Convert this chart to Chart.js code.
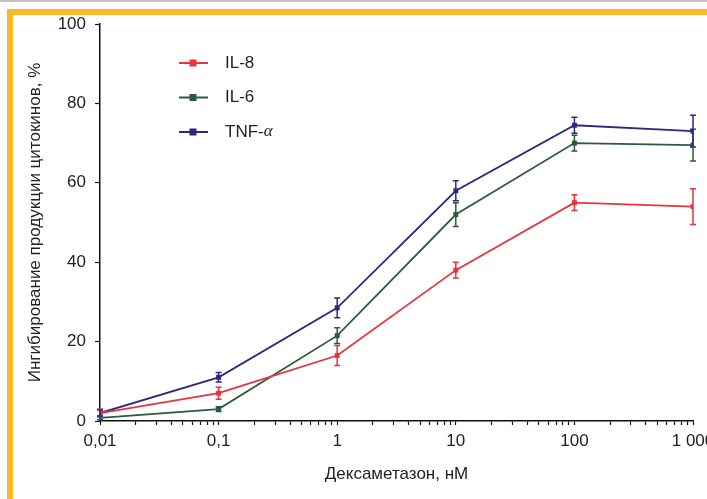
<!DOCTYPE html>
<html>
<head>
<meta charset="utf-8">
<script src="https://cdn.jsdelivr.net/npm/chart.js@4.4.1/dist/chart.umd.min.js"></script>
<style>
  html, body { margin:0; padding:0; background:#fff; overflow:hidden; }
  #wrap { position:relative; width:707px; height:499px; }
  #grayline { position:absolute; left:0; top:0; width:707px; height:2px; background:#c3c3c3; }
  #topbar { position:absolute; left:7px; top:9px; width:700px; height:6px; background:#fdb827; }
  #leftbar { position:absolute; left:7px; top:9px; width:6px; height:490px; background:#fdb827; }
  canvas { position:absolute; left:0; top:0; }
</style>
</head>
<body>
<div id="wrap">
  <div id="grayline"></div>
  <div id="topbar"></div>
  <div id="leftbar"></div>
  <canvas id="myChart" width="707" height="499"></canvas>
</div>
<script>
// данные
const doses = [0.01, 0.1, 1, 10, 100, 1000];
const doseLabels = {0.01:'0,01', 0.1:'0,1', 1:'1', 10:'10', 100:'100', 1000:'1 000'};

const il8 = [2, 7, 16.5, 38, 55, 54];
const il8Err = [1, 1.5, 2.5, 2, 2, 4.5];

const il6 = [0.8, 3, 21.5, 52, 70, 69.5];
const il6Err = [0.5, 0.6, 2, 3, 2, 4];

const tnf = [2, 11, 28.5, 58, 74.5, 73];
const tnfErr = [0.8, 1.2, 2.5, 2.5, 2, 4];

const names = ['IL-8', 'IL-6', 'TNF-α'];
const colors = ['#e8323c', '#2c5a3c', '#2a2a80'];

const FONT = '"Liberation Sans Narrow", "Liberation Sans", Arial, sans-serif';

function pts(vals, errs){
  return vals.map((v,i)=>({x: doses[i], y: v, err: errs[i]}));
}

// усы погрешностей
const errorBars = {
  id:'errorBars',
  afterDatasetsDraw(chart){
    const ctx = chart.ctx, xs = chart.scales.x, ys = chart.scales.y;
    chart.data.datasets.forEach((ds)=>{
      ctx.save();
      ctx.strokeStyle = ds.borderColor;
      ctx.lineWidth = 1.5;
      ds.data.forEach(p=>{
        const x = xs.getPixelForValue(p.x);
        const y1 = ys.getPixelForValue(p.y + p.err);
        const y2 = ys.getPixelForValue(Math.max(0, p.y - p.err));
        ctx.beginPath();
        ctx.moveTo(x, y1); ctx.lineTo(x, y2);
        ctx.moveTo(x-3, y1); ctx.lineTo(x+3, y1);
        ctx.moveTo(x-3, y2); ctx.lineTo(x+3, y2);
        ctx.stroke();
      });
      ctx.restore();
    });
  }
};

// легенда внутри графика
const innerLegend = {
  id:'innerLegend',
  afterDraw(chart){
    const ctx = chart.ctx;
    chart.data.datasets.forEach((ds,i)=>{
      const y = 63 + i*34.5;
      ctx.save();
      ctx.strokeStyle = ds.borderColor;
      ctx.fillStyle = ds.borderColor;
      ctx.lineWidth = 2;
      ctx.beginPath(); ctx.moveTo(179, y); ctx.lineTo(208, y); ctx.stroke();
      ctx.fillRect(189.5, y-3.5, 7, 7);
      ctx.fillStyle = '#222';
      ctx.font = '17px ' + FONT;
      ctx.textBaseline = 'middle';
      if (ds.label === 'TNF-α') {
        ctx.fillText('TNF-', 225, y);
        const w = ctx.measureText('TNF-').width;
        ctx.font = 'italic 17px "Liberation Serif", serif';
        ctx.fillText('α', 225 + w, y);
      } else {
        ctx.fillText(ds.label, 225, y);
      }
      ctx.restore();
    });
  }
};

const series = [[il8, il8Err], [il6, il6Err], [tnf, tnfErr]];

window.myChart = new Chart(document.getElementById('myChart'), {
  type: 'line',
  data: {
    datasets: series.map((s,i)=>({
      label: names[i],
      data: pts(s[0], s[1]),
      borderColor: colors[i],
      backgroundColor: colors[i],
      borderWidth: 1.8,
      pointStyle: 'rect',
      pointRadius: 3.5,
      pointBorderWidth: 0,
      tension: 0
    }))
  },
  options: {
    responsive: false,
    animation: false,
    layout: { padding: { left: 18, top: 24, right: 14, bottom: 0 } },
    plugins: { legend: { display:false }, tooltip: { enabled:false } },
    scales: {
      x: {
        type: 'logarithmic',
        min: 0.01, max: 1000,
        afterBuildTicks(scale){
          const t = [];
          for (let e = -2; e <= 3; e++) {
            for (let m = 1; m <= 9; m++) {
              const v = +(m * Math.pow(10, e)).toPrecision(3);
              if (v > 1000) break;
              t.push({value: v});
            }
          }
          scale.ticks = t;
        },
        afterFit(scale){ scale.height = 78; scale.paddingLeft = 0; scale.paddingRight = 0; },
        border: { display:true, color:'#111', width:1.5 },
        grid: { drawOnChartArea:false, drawTicks:true, tickLength:4, tickColor:'#111', tickWidth:1.2 },
        ticks: {
          autoSkip:false, maxRotation:0, padding:6, color:'#222',
          font: { family: FONT, size: 17 },
          callback(v){ return doseLabels[+(+v).toPrecision(3)] || ''; }
        },
        title: { display:true, text:'Дексаметазон, нМ', color:'#222', font:{ family: FONT, size:17 }, padding:{ top:0, bottom:14 } }
      },
      y: {
        min: 0, max: 100,
        afterFit(scale){ scale.width = 82; scale.paddingTop = 0; scale.paddingBottom = 0; },
        border: { display:true, color:'#111', width:1.5 },
        grid: { drawOnChartArea:false, drawTicks:true, tickLength:5, tickColor:'#111', tickWidth:1.2 },
        ticks: { stepSize:20, padding:9, color:'#222', font:{ family: FONT, size:17 } },
        title: { display:true, text:'Ингибирование продукции цитокинов, %', color:'#222', font:{ family: FONT, size:17 }, padding:{ top:7, bottom:0 } }
      }
    }
  },
  plugins: [errorBars, innerLegend]
});
</script>
</body>
</html>
